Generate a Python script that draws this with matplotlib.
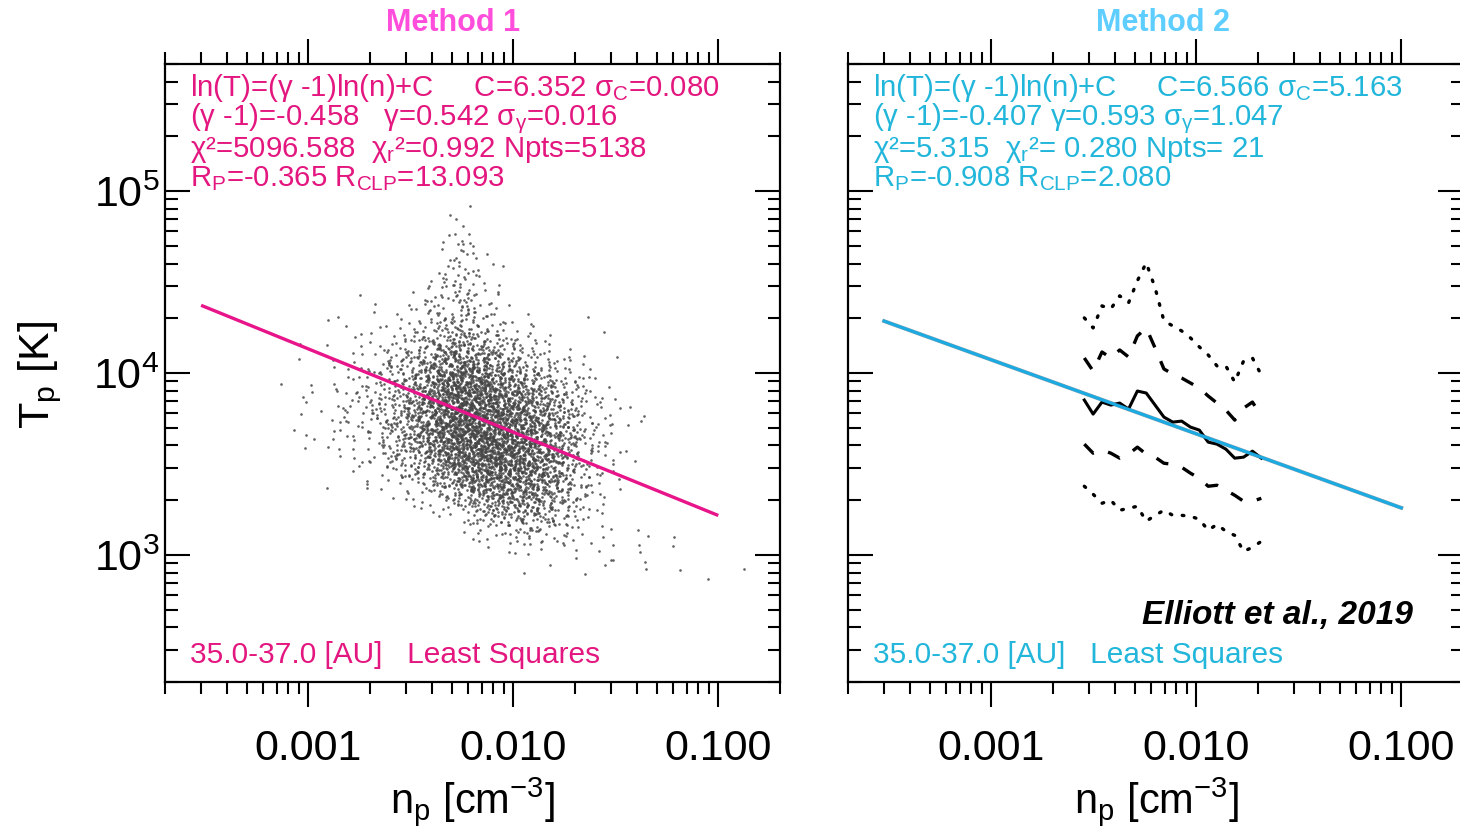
import numpy as np
import matplotlib
matplotlib.use("Agg")
import matplotlib.pyplot as plt
from matplotlib.ticker import LogLocator, FuncFormatter, LogFormatterMathtext, NullFormatter

plt.rcParams["font.family"] = ["Liberation Sans", "DejaVu Sans"]
plt.rcParams["mathtext.fontset"] = "custom"
plt.rcParams["mathtext.rm"] = "Liberation Sans"
plt.rcParams["mathtext.it"] = "Liberation Sans:italic"
plt.rcParams["mathtext.bf"] = "Liberation Sans:bold"

# ---------------- data ----------------
# least-squares fits  ln(T) = (gamma-1) ln(n) + C
C_M1, GAMMA_M1 = 6.352, 0.542
C_M2, GAMMA_M2 = 6.566, 0.593
FIT_N = [3.0e-4, 0.1]
NPTS_M1 = 5138

# Method 1: point density of the individual samples on a 0.1-decade grid
# rows: log10 T from 5.0 down to 2.8, columns: log10 n from -3.2 up to -0.8
GRID_LOGN_START = -3.2
GRID_LOGT_START = 5.0
GRID_STEP = 0.1
DENSITY = [
    [0]*24,
    [0,0,0,0,0,0,0,0,0,4,0,0,0,0,0,0,0,0,0,0,0,0,0,0],
    [0,0,0,0,0,0,0,0,1,8,0,0,0,0,0,0,0,0,0,0,0,0,0,0],
    [0,0,0,0,0,0,0,0,3,12,3,0,0,0,0,0,0,0,0,0,0,0,0,0],
    [0,0,0,0,0,0,0,0,5,15,4,1,0,0,0,0,0,0,0,0,0,0,0,0],
    [0,0,0,0,0,0,0,3,10,18,6,2,0,0,0,0,0,0,0,0,0,0,0,0],
    [0,0,1,0,1,2,3,8,15,20,10,4,1,0,0,0,0,0,0,0,0,0,0,0],
    [0,0,0,1,2,3,5,12,20,28,18,8,4,2,0,1,0,0,0,0,0,0,0,0],
    [0,1,0,2,3,6,12,22,40,55,40,22,12,6,3,1,0,0,0,0,0,0,0,0],
    [0,0,1,3,5,10,20,38,70,90,70,45,28,15,8,3,1,0,0,0,0,0,0,0],
    [1,0,2,4,8,15,30,55,100,120,110,80,55,35,18,8,2,0,0,0,0,0,0,0],
    [0,1,2,5,10,18,35,65,110,140,135,110,80,55,30,12,4,1,0,0,0,0,0,0],
    [0,1,2,5,8,18,38,68,112,145,150,130,100,70,40,15,5,2,1,0,0,0,0,0],
    [0,1,2,4,7,14,32,62,105,140,150,140,115,80,45,18,6,2,0,0,0,0,0,0],
    [0,0,1,3,5,10,24,45,82,120,138,138,115,85,48,18,6,2,0,0,0,0,0,0],
    [0,0,0,1,3,5,12,25,50,85,110,118,102,76,42,15,4,1,0,0,0,0,0,0],
    [0,0,0,0,1,2,4,9,20,42,68,82,80,62,36,12,3,0,0,0,0,0,0,0],
    [0,0,0,0,0,0,0,2,5,14,32,46,50,40,22,8,2,0,0,0,0,0,0,0],
    [0,0,0,0,0,0,0,0,0,2,8,15,20,18,12,5,2,1,0,0,0,0,0,0],
    [0,0,0,0,0,0,0,0,0,0,2,4,5,5,4,2,2,1,2,2,0,0,0,0],
    [0,0,0,0,0,0,0,0,0,0,0,0,1,0,1,1,1,2,3,1,0,1,0,0],
    [0,0,0,0,0,0,0,0,0,0,0,0,0,0,0,0,0,0,0,0,0,0,0,1],
]

# Method 2: binned statistics (21 bins)
BIN_N = [0.002843, 0.003139, 0.003467, 0.003830, 0.004230, 0.004672, 0.005160,
         0.005699, 0.006295, 0.006953, 0.007679, 0.008482, 0.009369, 0.01035,
         0.01143, 0.01262, 0.01394, 0.01540, 0.01701, 0.01879, 0.02076]
T_P90 = [20090, 17695, 23390, 22525, 26560, 24300, 32130, 40370, 29400, 19340, 18155,
         17035, 15590, 13910, 12565, 10930, 10930, 8920, 11645, 12093, 9750]
T_P75 = [12093, 10254, 13050, 12093, 13385, 12250, 15990, 17695, 13730, 10520, 9874,
         9386, 8808, 8268, 7470, 6834, 6254, 5508, 6411, 6920, 5795]
T_MED = [7100, 5943, 6920, 6663, 6834, 6333, 7959, 7760, 6663, 5722, 5370,
         5439, 5041, 4853, 4167, 4063, 3814, 3402, 3446, 3717, 3402]
T_P25 = [4063, 3624, 3765, 3624, 3402, 3578, 3912, 3578, 3446, 3190, 3150,
         3034, 2812, 2639, 2384, 2415, 2266, 2127, 1971, 1971, 2047]
T_P10 = [2384, 2155, 1922, 1997, 1759, 1804, 1850, 1530, 1650, 1759, 1650,
         1650, 1630, 1569, 1365, 1472, 1348, 1280, 1045, 1100, 1187]

M1_LINES = [
    r"ln(T)=(γ -1)ln(n)+C     C=6.352 σ$_{\mathrm{C}}$=0.080",
    r"(γ -1)=-0.458   γ=0.542 σ$_{\mathrm{γ}}$=0.016",
    r"χ²=5096.588  χ$_{\mathrm{r}}$²=0.992 Npts=5138",
    r"R$_{\mathrm{P}}$=-0.365 R$_{\mathrm{CLP}}$=13.093",
]
M2_LINES = [
    r"ln(T)=(γ -1)ln(n)+C     C=6.566 σ$_{\mathrm{C}}$=5.163",
    r"(γ -1)=-0.407 γ=0.593 σ$_{\mathrm{γ}}$=1.047",
    r"χ²=5.315  χ$_{\mathrm{r}}$²= 0.280 Npts= 21",
    r"R$_{\mathrm{P}}$=-0.908 R$_{\mathrm{CLP}}$=2.080",
]
LINE_Y = [0.9485, 0.9005, 0.8500, 0.8020]
FOOTER = "35.0-37.0 [AU]   Least Squares"

PINK_TXT = "#E3177F"
PINK_LINE = "#E8148A"
PINK_TITLE = "#FF4EDB"
CYAN_TXT = "#22B6DB"
CYAN_LINE = "#1BAAE2"
CYAN_TITLE = "#5ECDFF"


# ---------------- helpers ----------------
def radical_inverse(i, base):
    i = np.array(i, dtype=np.int64)
    out = np.zeros(i.shape, dtype=float)
    f = 1.0 / base
    while np.any(i > 0):
        out += f * (i % base)
        i //= base
        f /= base
    return out


def scatter_points(density, total):
    """Spread the grid counts over their cells with a low-discrepancy
    sequence and a triangular (linear-interpolation) kernel."""
    w = np.asarray(density, dtype=float)
    counts = np.floor(w * total / w.sum() + 0.5).astype(int)
    counts[(w > 0) & (counts == 0)] = 1
    counts.flat[np.argmax(counts)] += total - counts.sum()
    rows, cols = np.nonzero(counts)
    k = counts[rows, cols]
    r = np.repeat(rows, k)
    c = np.repeat(cols, k)
    i = np.arange(1, r.size + 1) + 7
    du = radical_inverse(i, 2) + radical_inverse(i, 5) - 1.0
    dv = radical_inverse(i, 3) + radical_inverse(i, 7) - 1.0
    ln = GRID_LOGN_START + (c + 0.5 + du) * GRID_STEP
    lt = GRID_LOGT_START - (r + 0.5 + dv) * GRID_STEP
    return 10 ** ln, 10 ** lt


def style_axes(ax, ylabels=True):
    ax.set_xscale("log")
    ax.set_yscale("log")
    ax.set_xlim(2e-4, 0.2)
    ax.set_ylim(200, 5e5)
    ax.xaxis.set_major_locator(LogLocator(base=10, numticks=10))
    ax.xaxis.set_minor_locator(LogLocator(base=10, subs=np.arange(2, 10), numticks=20))
    ax.xaxis.set_major_formatter(FuncFormatter(lambda v, p: f"{v:.3f}"))
    ax.xaxis.set_minor_formatter(NullFormatter())
    ax.yaxis.set_major_locator(LogLocator(base=10, numticks=10))
    ax.yaxis.set_minor_locator(LogLocator(base=10, subs=np.arange(2, 10), numticks=20))
    ax.yaxis.set_major_formatter(LogFormatterMathtext() if ylabels else NullFormatter())
    ax.yaxis.set_minor_formatter(NullFormatter())
    ax.tick_params(axis="x", which="both", direction="out", top=True, bottom=True,
                   width=1.5, colors="black")
    ax.tick_params(axis="x", which="major", length=18, pad=16, labelsize=31)
    ax.tick_params(axis="x", which="minor", length=8.5)
    ax.tick_params(axis="y", which="both", direction="in", left=True, right=True,
                   width=1.5)
    ax.tick_params(axis="y", which="major", length=18, pad=4, labelsize=31)
    ax.tick_params(axis="y", which="minor", length=9)
    for s in ax.spines.values():
        s.set_linewidth(1.6)


def fit_curve(c, gamma):
    n = np.logspace(np.log10(FIT_N[0]), np.log10(FIT_N[1]), 50)
    return n, np.exp(c) * n ** (gamma - 1.0)


def write_block(ax, lines, color):
    for y, s in zip(LINE_Y, lines):
        ax.text(0.041, y, s, transform=ax.transAxes,
                fontsize=21.2, color=color, ha="left", va="baseline")
    ax.text(0.041, 0.031, FOOTER, transform=ax.transAxes, fontsize=21.5,
            color=color, ha="left", va="baseline")


# ---------------- figure ----------------
fig = plt.figure(figsize=(14.6, 8.31), dpi=100)
W, H = 1460.0, 831.0
ax1 = fig.add_axes([165 / W, 1 - 682 / H, 615 / W, 618 / H])
ax2 = fig.add_axes([848 / W, 1 - 682 / H, 615 / W, 618 / H])
style_axes(ax1, ylabels=True)
style_axes(ax2, ylabels=False)

# Method 1: individual samples and fit
sx, sy = scatter_points(DENSITY, NPTS_M1)
ax1.scatter(sx, sy, s=3.6, color="#454545", linewidths=0, alpha=0.85, zorder=2)
fn, ft = fit_curve(C_M1, GAMMA_M1)
ax1.plot(fn, ft, color=PINK_LINE, lw=2.4, zorder=3, solid_capstyle="butt")
write_block(ax1, M1_LINES, PINK_TXT)

# Method 2: binned percentiles and fit
ax2.plot(BIN_N, T_P90, color="black", lw=2.4, linestyle=(0, (0.5, 3.2)),
         dash_capstyle="round", zorder=2)
ax2.plot(BIN_N, T_P10, color="black", lw=2.4, linestyle=(0, (0.5, 3.2)),
         dash_capstyle="round", zorder=2)
ax2.plot(BIN_N, T_P75, color="black", lw=2.4, linestyle=(0, (4, 4.5)), zorder=2)
ax2.plot(BIN_N, T_P25, color="black", lw=2.4, linestyle=(0, (4, 4.5)), zorder=2)
ax2.plot(BIN_N, T_MED, color="black", lw=2.2, zorder=2)
fn, ft = fit_curve(C_M2, GAMMA_M2)
ax2.plot(fn, ft, color="#2a4a5a", lw=2.8, zorder=3, alpha=0.5)
ax2.plot(fn, ft, color=CYAN_LINE, lw=2.2, zorder=4)
write_block(ax2, M2_LINES, CYAN_TXT)
ax2.text(0.919, 0.094, "Elliott et al., 2019", transform=ax2.transAxes,
         fontsize=24, fontweight="bold", fontstyle="italic", color="black",
         ha="right", va="baseline")

# titles and axis labels
fig.text(453 / W, 1 - 23 / H, "Method 1", fontsize=22, fontweight="bold",
         color=PINK_TITLE, ha="center", va="center")
fig.text(1163 / W, 1 - 23 / H, "Method 2", fontsize=22, fontweight="bold",
         color=CYAN_TITLE, ha="center", va="center")
for cx in (472, 1156):
    fig.text(cx / W, 1 - 813 / H, r"n$_{\mathrm{p}}$ [cm$^{\mathrm{-3}}$]",
             fontsize=30, ha="center", va="baseline")
fig.text(40 / W, 1 - 375 / H, r"T$_{\mathrm{p}}$ [K]", fontsize=31,
         rotation=90, ha="center", va="center")

fig.savefig("out.png", dpi=100)
